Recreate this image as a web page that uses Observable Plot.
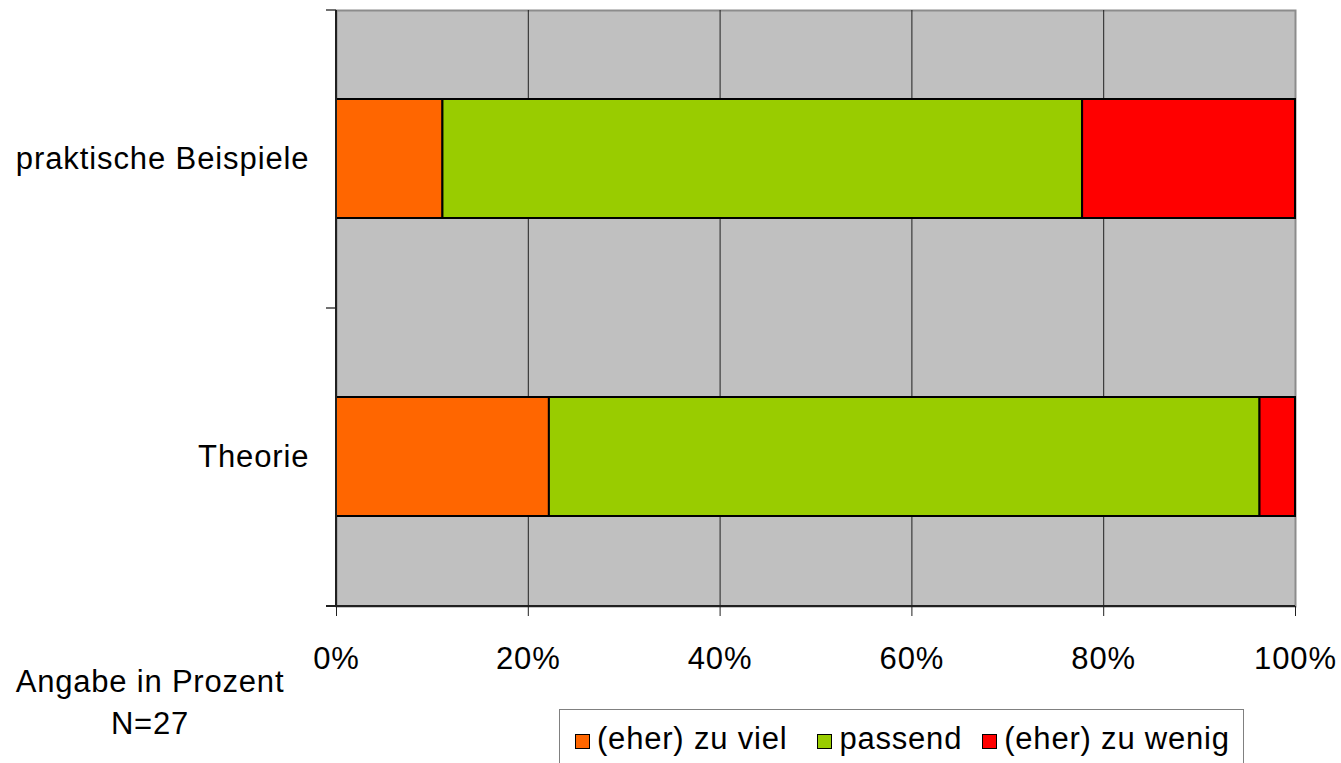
<!DOCTYPE html>
<html>
<head>
<meta charset="utf-8">
<script src="https://cdn.jsdelivr.net/npm/d3@7"></script>
<script src="https://cdn.jsdelivr.net/npm/@observablehq/plot@0.6"></script>
<style>
  html, body { margin: 0; padding: 0; background: #fff; }
  body { width: 1341px; height: 763px; overflow: hidden; position: relative; font-family: "Liberation Sans", Arial, sans-serif; }
  #chart { position: absolute; left: 0; top: 0; }
  #caption { position: absolute; left: 0; top: 661px; width: 300px; text-align: center; font-size: 31px; letter-spacing: 0.8px; line-height: 42px; color: #000; }
  #legend { position: absolute; left: 559px; top: 709px; width: 685px; height: 70px; border: 1px solid #808080; display: flex; align-items: flex-start; padding-top: 11px; box-sizing: border-box; font-size: 31px; letter-spacing: 0.8px; color: #000; }
  .item { display: flex; align-items: center; white-space: nowrap; }
  .sw { width: 13px; height: 13px; border: 1.5px solid #000; margin-right: 7px; margin-top: 4px; }
</style>
</head>
<body>
<div id="chart"></div>
<div id="caption"></div>
<div id="legend"></div>
<script>
const categories = ["praktische Beispiele", "Theorie"];
const responses = ["(eher) zu viel", "passend", "(eher) zu wenig"];
const responseColors = ["#FF6600", "#99CC00", "#FF0000"];
const beispieleValues = [11.1, 66.7, 22.2];
const theorieValues = [22.2, 74.1, 3.7];
const xTicks = [0, 20, 40, 60, 80, 100];
const captionLines = ["Angabe in Prozent", "N=27"];

const seriesByCategory = [beispieleValues, theorieValues];
const rows = categories.flatMap((c, i) =>
  responses.map((r, j) => ({category: c, response: r, value: seriesByCategory[i][j]}))
);

const W = 1341, H = 763, mT = 10, mB = 157, mL = 336, mR = 46;

// axis decorations: left axis line, bottom axis line, category-boundary ticks
function axisDecor(index, scales, values, dims) {
  const g = d3.create("svg:g");
  const top = dims.marginTop, bottom = dims.height - dims.marginBottom;
  const left = dims.marginLeft, right = dims.width - dims.marginRight;
  const n = categories.length;
  for (let k = 0; k <= n; k++) {
    const yy = top + (bottom - top) * k / n;
    g.append("line").attr("x1", left - 10).attr("x2", left).attr("y1", yy).attr("y2", yy)
      .attr("stroke", "#404040").attr("stroke-width", 1.5);
  }
  g.append("line").attr("x1", left).attr("x2", left).attr("y1", top).attr("y2", bottom)
    .attr("stroke", "#202020").attr("stroke-width", 2);
  g.append("line").attr("x1", left - 10).attr("x2", right).attr("y1", bottom).attr("y2", bottom)
    .attr("stroke", "#202020").attr("stroke-width", 2);
  return g.node();
}

const chart = Plot.plot({
  width: W, height: H,
  marginTop: mT, marginBottom: mB, marginLeft: mL, marginRight: mR,
  style: {fontFamily: '"Liberation Sans", Arial, sans-serif', fontSize: "31px", letterSpacing: "0.9px", color: "#000", background: "transparent"},
  x: {domain: [0, 100]},
  y: {domain: categories, paddingInner: 0.6, paddingOuter: 0.3},
  color: {domain: responses, range: responseColors},
  marks: [
    Plot.frame({fill: "#C0C0C0", stroke: "#8c8c8c", strokeWidth: 2}),
    Plot.gridX(xTicks.filter(t => t > 0 && t < 100), {stroke: "#202020", strokeOpacity: 1, strokeWidth: 1}),
    Plot.barX(rows, {x: "value", y: "category", fill: "response", stroke: "#000", strokeWidth: 2}),
    axisDecor,
    Plot.axisX(xTicks, {tickSize: 10, tickPadding: 30, tickFormat: d => d + "%", label: null, fontSize: 31, stroke: "#202020"}),
    Plot.axisY({tickSize: 0, tickPadding: 27, label: null, fontSize: 31})
  ]
});
document.getElementById("chart").appendChild(chart);

document.getElementById("caption").innerHTML = captionLines.map(s => `<div>${s}</div>`).join("");

const legend = document.getElementById("legend");
const gaps = [15, 30, 20];
responses.forEach((r, i) => {
  const it = document.createElement("div");
  it.className = "item";
  it.style.marginLeft = gaps[i] + "px";
  const sw = document.createElement("div");
  sw.className = "sw";
  sw.style.background = responseColors[i];
  const tx = document.createElement("span");
  tx.textContent = r;
  it.appendChild(sw); it.appendChild(tx);
  legend.appendChild(it);
});
</script>
</body>
</html>
